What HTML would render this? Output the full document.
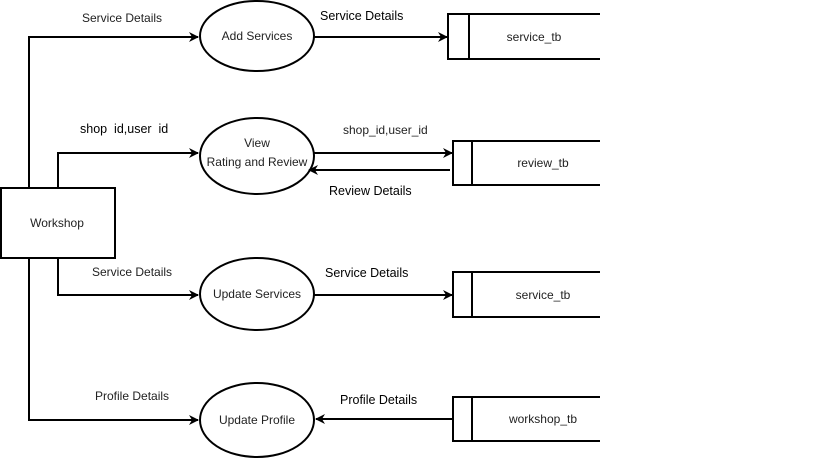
<!DOCTYPE html>
<html><head><style>
body{margin:0;background:#fff;width:819px;height:460px;overflow:hidden}
svg text{font-family:"Liberation Sans",sans-serif;font-size:12px;fill:#222}
.b{fill:#000;font-size:12.5px}
</style></head><body>
<svg width="819" height="460" xmlns="http://www.w3.org/2000/svg">
<defs><marker id="a" markerWidth="10" markerHeight="10" refX="9" refY="5" orient="auto" markerUnits="userSpaceOnUse"><path d="M0,0 L10,5 L0,10 L3,5 Z" fill="#000"/></marker></defs>
<g stroke="#000" stroke-width="2" fill="none">
<rect x="1" y="188" width="114" height="70" fill="#fff"/>
<path d="M29,188 V37 H198" marker-end="url(#a)"/>
<path d="M58,188 V153 H198" marker-end="url(#a)"/>
<path d="M58,258 V295 H198" marker-end="url(#a)"/>
<path d="M29,258 V420 H198" marker-end="url(#a)"/>
<ellipse cx="257" cy="36" rx="57" ry="35"/>
<ellipse cx="257" cy="156" rx="57" ry="38"/>
<ellipse cx="257" cy="294" rx="57" ry="36"/>
<ellipse cx="257" cy="420" rx="57" ry="37"/>
<path d="M314,37 H447" marker-end="url(#a)"/>
<path d="M314,153 H452" marker-end="url(#a)"/>
<path d="M450,170 H309" marker-end="url(#a)"/>
<path d="M314,295 H452" marker-end="url(#a)"/>
<path d="M452,419 H316" marker-end="url(#a)"/>
<path d="M600,14 H448 V59 H600 M469,14 V59"/>
<path d="M600,141 H453 V185 H600 M472,141 V185"/>
<path d="M600,272 H453 V317 H600 M472,272 V317"/>
<path d="M600,397 H453 V441 H600 M472,397 V441"/>
</g>
<text x="57" y="227" text-anchor="middle">Workshop</text>
<text x="257" y="40" text-anchor="middle">Add Services</text>
<text x="257" y="147" text-anchor="middle">View</text>
<text x="257" y="166" text-anchor="middle">Rating and Review</text>
<text x="257" y="298" text-anchor="middle">Update Services</text>
<text x="257" y="424" text-anchor="middle">Update Profile</text>
<text x="534" y="41" text-anchor="middle">service_tb</text>
<text x="543" y="167" text-anchor="middle">review_tb</text>
<text x="543" y="299" text-anchor="middle">service_tb</text>
<text x="543" y="423" text-anchor="middle">workshop_tb</text>
<text x="82" y="22">Service Details</text>
<text x="92" y="276">Service Details</text>
<text x="95" y="400">Profile Details</text>
<text x="343" y="134">shop_id,user_id</text>
<text class="b" x="320" y="20">Service Details</text>
<text class="b" x="80" y="133">shop&#160; id,user&#160; id</text>
<text class="b" x="329" y="195">Review Details</text>
<text class="b" x="325" y="277">Service Details</text>
<text class="b" x="340" y="404">Profile Details</text>
</svg>
</body></html>
